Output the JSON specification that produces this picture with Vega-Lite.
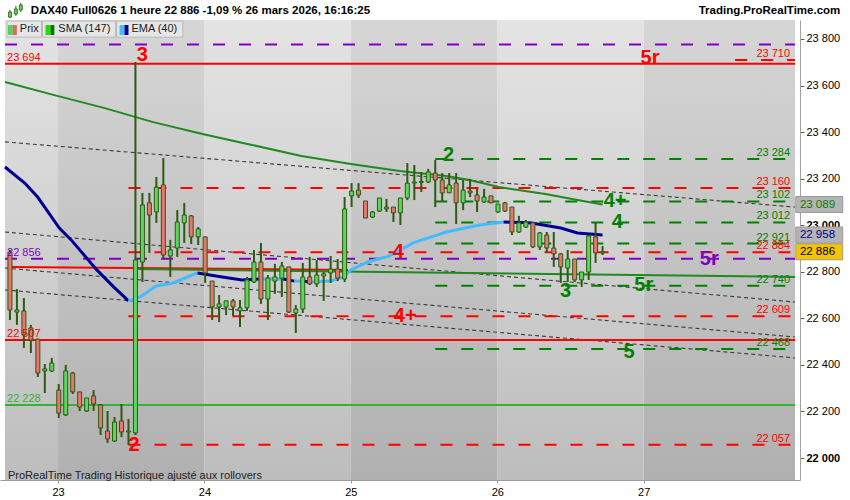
{
  "$schema": "https://vega.github.io/schema/vega-lite/v6.json",
  "width": 800,
  "height": 460,
  "autosize": {"type": "none"},
  "padding": {"left": 0, "top": 20, "right": 50, "bottom": 20},
  "background": "#ffffff",
  "config": {"view": {"stroke": null}, "font": "Liberation Sans"},
  "datasets": {
    "jours": [
      {"a": -0.71, "b": 6.9, "s": "clair"},
      {"a": 6.9, "b": 27.9, "s": "fonce"},
      {"a": 27.9, "b": 48.9, "s": "clair"},
      {"a": 48.9, "b": 69.9, "s": "fonce"},
      {"a": 69.9, "b": 90.9, "s": "clair"},
      {"a": 90.9, "b": 112.6, "s": "fonce"}
    ],
    "lignes": [
      {"id": "r1", "grp": "res", "trait": "tirets", "k": 17, "v": 23160}, {"id": "r1", "grp": "res", "trait": "tirets", "k": 112.6, "v": 23160},
      {"id": "r2", "grp": "res", "trait": "tirets", "k": 17, "v": 22884}, {"id": "r2", "grp": "res", "trait": "tirets", "k": 112.6, "v": 22884},
      {"id": "r3", "grp": "res", "trait": "tirets", "k": 17, "v": 22609}, {"id": "r3", "grp": "res", "trait": "tirets", "k": 112.6, "v": 22609},
      {"id": "r4", "grp": "res", "trait": "tirets", "k": 17, "v": 22057}, {"id": "r4", "grp": "res", "trait": "tirets", "k": 112.6, "v": 22057},
      {"id": "r5", "grp": "res", "trait": "tirets", "k": 104, "v": 23710}, {"id": "r5", "grp": "res", "trait": "tirets", "k": 112.6, "v": 23710},
      {"id": "s1", "grp": "sup", "trait": "tirets", "k": 61, "v": 23284}, {"id": "s1", "grp": "sup", "trait": "tirets", "k": 112.6, "v": 23284},
      {"id": "s2", "grp": "sup", "trait": "tirets", "k": 61, "v": 23102}, {"id": "s2", "grp": "sup", "trait": "tirets", "k": 112.6, "v": 23102},
      {"id": "s3", "grp": "sup", "trait": "tirets", "k": 61, "v": 23012}, {"id": "s3", "grp": "sup", "trait": "tirets", "k": 112.6, "v": 23012},
      {"id": "s4", "grp": "sup", "trait": "tirets", "k": 61, "v": 22921}, {"id": "s4", "grp": "sup", "trait": "tirets", "k": 112.6, "v": 22921},
      {"id": "s5", "grp": "sup", "trait": "tirets", "k": 61, "v": 22740}, {"id": "s5", "grp": "sup", "trait": "tirets", "k": 112.6, "v": 22740},
      {"id": "s6", "grp": "sup", "trait": "tirets", "k": 61, "v": 22468}, {"id": "s6", "grp": "sup", "trait": "tirets", "k": 112.6, "v": 22468},
      {"id": "p1", "grp": "piv", "trait": "tirets", "k": -0.71, "v": 23776}, {"id": "p1", "grp": "piv", "trait": "tirets", "k": 112.6, "v": 23776},
      {"id": "p2", "grp": "piv", "trait": "tirets", "k": -0.71, "v": 22856}, {"id": "p2", "grp": "piv", "trait": "tirets", "k": 112.6, "v": 22856},
      {"id": "f1", "grp": "res", "trait": "plein", "k": -0.71, "v": 23694}, {"id": "f1", "grp": "res", "trait": "plein", "k": 112.6, "v": 23694},
      {"id": "f2", "grp": "res", "trait": "plein", "k": -0.71, "v": 22507}, {"id": "f2", "grp": "res", "trait": "plein", "k": 112.6, "v": 22507},
      {"id": "f3", "grp": "supFixe", "trait": "plein", "k": -0.71, "v": 22228}, {"id": "f3", "grp": "supFixe", "trait": "plein", "k": 112.6, "v": 22228},
      {"id": "t1", "grp": "res", "trait": "plein", "k": 0, "v": 22821}, {"id": "t1", "grp": "res", "trait": "plein", "k": 48.5, "v": 22808},
      {"id": "t2", "grp": "sma", "trait": "plein", "k": 18, "v": 22812}, {"id": "t2", "grp": "sma", "trait": "plein", "k": 112.6, "v": 22778},
      {"id": "c1", "grp": "canal", "trait": "pointille", "k": -0.71, "v": 23358}, {"id": "c1", "grp": "canal", "trait": "pointille", "k": 112.6, "v": 23078},
      {"id": "c2", "grp": "canal", "trait": "pointille", "k": -0.71, "v": 22971}, {"id": "c2", "grp": "canal", "trait": "pointille", "k": 112.6, "v": 22670},
      {"id": "c3", "grp": "canal", "trait": "pointille", "k": -0.71, "v": 22816}, {"id": "c3", "grp": "canal", "trait": "pointille", "k": 112.6, "v": 22520},
      {"id": "c4", "grp": "canal", "trait": "pointille", "k": -0.71, "v": 22722}, {"id": "c4", "grp": "canal", "trait": "pointille", "k": 112.6, "v": 22430}
    ],
    "sma": [
      {"k": -0.71, "v": 23615}, {"k": 6.37, "v": 23559}, {"k": 13.46, "v": 23504}, {"k": 20.54, "v": 23443},
      {"k": 27.62, "v": 23392}, {"k": 34.7, "v": 23345}, {"k": 41.8, "v": 23297}, {"k": 48.9, "v": 23263},
      {"k": 55.9, "v": 23233}, {"k": 62.6, "v": 23211}, {"k": 65.9, "v": 23194}, {"k": 70.1, "v": 23164},
      {"k": 76.8, "v": 23134}, {"k": 81.4, "v": 23108}, {"k": 85, "v": 23089}
    ],
    "ema": [
      {"seg": 1, "grp": "emaB", "k": -0.71, "v": 23250}, {"seg": 1, "grp": "emaB", "k": 2.12, "v": 23181}, {"seg": 1, "grp": "emaB", "k": 3.97, "v": 23121},
      {"seg": 1, "grp": "emaB", "k": 7.08, "v": 22988}, {"seg": 1, "grp": "emaB", "k": 8.78, "v": 22937}, {"seg": 1, "grp": "emaB", "k": 12.46, "v": 22808},
      {"seg": 1, "grp": "emaB", "k": 14.87, "v": 22735}, {"seg": 1, "grp": "emaB", "k": 17, "v": 22675},
      {"seg": 2, "grp": "emaH", "k": 17, "v": 22675}, {"seg": 2, "grp": "emaH", "k": 18.7, "v": 22692}, {"seg": 2, "grp": "emaH", "k": 20.96, "v": 22739},
      {"seg": 2, "grp": "emaH", "k": 23.4, "v": 22752}, {"seg": 2, "grp": "emaH", "k": 26.9, "v": 22795},
      {"seg": 3, "grp": "emaB", "k": 26.9, "v": 22795}, {"seg": 3, "grp": "emaB", "k": 30.45, "v": 22778}, {"seg": 3, "grp": "emaB", "k": 33.3, "v": 22765}, {"seg": 3, "grp": "emaB", "k": 36.1, "v": 22769},
      {"seg": 4, "grp": "emaH", "k": 36.1, "v": 22769}, {"seg": 4, "grp": "emaH", "k": 39.2, "v": 22769},
      {"seg": 5, "grp": "emaB", "k": 39.2, "v": 22769}, {"seg": 5, "grp": "emaB", "k": 40.8, "v": 22760},
      {"seg": 6, "grp": "emaH", "k": 40.8, "v": 22760}, {"seg": 6, "grp": "emaH", "k": 42.07, "v": 22760},
      {"seg": 7, "grp": "emaB", "k": 42.07, "v": 22760}, {"seg": 7, "grp": "emaB", "k": 42.9, "v": 22756},
      {"seg": 8, "grp": "emaH", "k": 42.9, "v": 22756}, {"seg": 8, "grp": "emaH", "k": 46.0, "v": 22760}, {"seg": 8, "grp": "emaH", "k": 47.9, "v": 22778},
      {"seg": 8, "grp": "emaH", "k": 48.9, "v": 22808}, {"seg": 8, "grp": "emaH", "k": 51.3, "v": 22842}, {"seg": 8, "grp": "emaH", "k": 54.5, "v": 22868},
      {"seg": 8, "grp": "emaH", "k": 57.8, "v": 22924}, {"seg": 8, "grp": "emaH", "k": 62.6, "v": 22971}, {"seg": 8, "grp": "emaH", "k": 67.3, "v": 23001},
      {"seg": 8, "grp": "emaH", "k": 70.8, "v": 23014},
      {"seg": 9, "grp": "emaB", "k": 70.8, "v": 23014}, {"seg": 9, "grp": "emaB", "k": 74.8, "v": 23010}, {"seg": 9, "grp": "emaB", "k": 79.0, "v": 22988},
      {"seg": 9, "grp": "emaB", "k": 81.4, "v": 22967}, {"seg": 9, "grp": "emaB", "k": 85, "v": 22958}
    ],
    "bougies": [
      {"k":0,"o":22885,"h":22894,"l":22593,"c":22636},
      {"k":1,"o":22627,"h":22726,"l":22572,"c":22636},
      {"k":2,"o":22632,"h":22687,"l":22473,"c":22529},
      {"k":3,"o":22559,"h":22572,"l":22451,"c":22507},
      {"k":4,"o":22511,"h":22511,"l":22348,"c":22365},
      {"k":5,"o":22374,"h":22404,"l":22279,"c":22383},
      {"k":6,"o":22374,"h":22430,"l":22370,"c":22408},
      {"k":7,"o":22292,"h":22318,"l":22172,"c":22193},
      {"k":8,"o":22185,"h":22400,"l":22181,"c":22374},
      {"k":9,"o":22365,"h":22370,"l":22275,"c":22284},
      {"k":10,"o":22284,"h":22284,"l":22202,"c":22219},
      {"k":11,"o":22202,"h":22258,"l":22198,"c":22258},
      {"k":12,"o":22267,"h":22292,"l":22202,"c":22232},
      {"k":13,"o":22228,"h":22232,"l":22099,"c":22129},
      {"k":14,"o":22116,"h":22202,"l":22065,"c":22082},
      {"k":15,"o":22073,"h":22176,"l":22069,"c":22155},
      {"k":16,"o":22159,"h":22232,"l":22090,"c":22112},
      {"k":17,"o":22112,"h":22168,"l":22056,"c":22116},
      {"k":18,"o":22108,"h":23701,"l":22099,"c":22851},
      {"k":19,"o":22842,"h":23139,"l":22756,"c":23087},
      {"k":20,"o":23096,"h":23139,"l":22881,"c":23044},
      {"k":21,"o":23057,"h":23207,"l":23010,"c":23164},
      {"k":22,"o":23173,"h":23289,"l":22859,"c":22872},
      {"k":23,"o":22868,"h":22937,"l":22778,"c":22894},
      {"k":24,"o":22902,"h":23065,"l":22864,"c":23014},
      {"k":25,"o":23010,"h":23096,"l":22924,"c":23044},
      {"k":26,"o":23040,"h":23044,"l":22919,"c":22950},
      {"k":27,"o":22950,"h":22992,"l":22915,"c":22984},
      {"k":28,"o":22950,"h":22950,"l":22752,"c":22795},
      {"k":29,"o":22760,"h":22760,"l":22593,"c":22649},
      {"k":30,"o":22649,"h":22700,"l":22584,"c":22662},
      {"k":31,"o":22649,"h":22675,"l":22614,"c":22675},
      {"k":32,"o":22675,"h":22683,"l":22610,"c":22649},
      {"k":33,"o":22632,"h":22679,"l":22563,"c":22645},
      {"k":34,"o":22645,"h":22778,"l":22632,"c":22765},
      {"k":35,"o":22756,"h":22894,"l":22752,"c":22842},
      {"k":36,"o":22842,"h":22924,"l":22662,"c":22683},
      {"k":37,"o":22683,"h":22786,"l":22593,"c":22773},
      {"k":38,"o":22760,"h":22834,"l":22705,"c":22778},
      {"k":39,"o":22773,"h":22842,"l":22692,"c":22825},
      {"k":40,"o":22821,"h":22821,"l":22623,"c":22627},
      {"k":41,"o":22623,"h":22657,"l":22537,"c":22640},
      {"k":42,"o":22640,"h":22838,"l":22623,"c":22778},
      {"k":43,"o":22778,"h":22864,"l":22743,"c":22748},
      {"k":44,"o":22748,"h":22851,"l":22735,"c":22786},
      {"k":45,"o":22782,"h":22799,"l":22675,"c":22791},
      {"k":46,"o":22795,"h":22868,"l":22752,"c":22812},
      {"k":47,"o":22812,"h":22855,"l":22760,"c":22773},
      {"k":48,"o":22769,"h":23121,"l":22756,"c":23070},
      {"k":49,"o":23126,"h":23181,"l":23078,"c":23147},
      {"k":50,"o":23151,"h":23181,"l":23117,"c":23130},
      {"k":51,"o":23104,"h":23104,"l":23031,"c":23031},
      {"k":52,"o":23035,"h":23061,"l":23031,"c":23057},
      {"k":53,"o":23061,"h":23117,"l":23057,"c":23117},
      {"k":54,"o":23078,"h":23113,"l":23057,"c":23070},
      {"k":55,"o":23078,"h":23078,"l":23014,"c":23053},
      {"k":56,"o":23053,"h":23117,"l":23001,"c":23117},
      {"k":57,"o":23117,"h":23267,"l":23108,"c":23181},
      {"k":58,"o":23181,"h":23259,"l":23108,"c":23186},
      {"k":59,"o":23184,"h":23229,"l":23143,"c":23188},
      {"k":60,"o":23186,"h":23242,"l":23181,"c":23229},
      {"k":61,"o":23224,"h":23280,"l":23078,"c":23194},
      {"k":62,"o":23194,"h":23224,"l":23100,"c":23139},
      {"k":63,"o":23139,"h":23224,"l":23139,"c":23173},
      {"k":64,"o":23181,"h":23224,"l":23005,"c":23096},
      {"k":65,"o":23096,"h":23194,"l":23065,"c":23151},
      {"k":66,"o":23147,"h":23199,"l":23121,"c":23139},
      {"k":67,"o":23130,"h":23156,"l":23057,"c":23104},
      {"k":68,"o":23100,"h":23156,"l":23096,"c":23121},
      {"k":69,"o":23126,"h":23126,"l":23096,"c":23096},
      {"k":70,"o":23057,"h":23091,"l":23053,"c":23091},
      {"k":71,"o":23096,"h":23100,"l":23057,"c":23061},
      {"k":72,"o":23078,"h":23078,"l":22958,"c":22971},
      {"k":73,"o":22971,"h":23040,"l":22967,"c":23010},
      {"k":74,"o":22992,"h":23023,"l":22988,"c":23014},
      {"k":75,"o":23010,"h":23014,"l":22902,"c":22907},
      {"k":76,"o":22907,"h":22971,"l":22894,"c":22967},
      {"k":77,"o":22958,"h":22971,"l":22881,"c":22902},
      {"k":78,"o":22902,"h":22971,"l":22821,"c":22877},
      {"k":79,"o":22877,"h":22881,"l":22752,"c":22821},
      {"k":80,"o":22816,"h":22894,"l":22756,"c":22855},
      {"k":81,"o":22855,"h":22855,"l":22756,"c":22765},
      {"k":82,"o":22765,"h":22799,"l":22735,"c":22799},
      {"k":83,"o":22799,"h":22958,"l":22765,"c":22954},
      {"k":84,"o":22950,"h":23010,"l":22838,"c":22881},
      {"k":85,"o":22881,"h":22911,"l":22872,"c":22886}
    ],
    "icone": [
      {"k": 0, "o": 23894, "h": 23925, "l": 23890, "c": 23916},
      {"k": 0.85, "o": 23907, "h": 23942, "l": 23899, "c": 23929},
      {"k": 1.56, "o": 23925, "h": 23955, "l": 23916, "c": 23946}
    ],
    "etiquettes": [
      {"t": "23 694", "v": 23694, "grp": "res", "cote": "g"},
      {"t": "22 856", "v": 22856, "grp": "piv", "cote": "g"},
      {"t": "22 507", "v": 22507, "grp": "res", "cote": "g"},
      {"t": "22 228", "v": 22228, "grp": "supFixe", "cote": "g"},
      {"t": "23 710", "v": 23710, "grp": "res", "cote": "d"},
      {"t": "23 284", "v": 23284, "grp": "sup", "cote": "d"},
      {"t": "23 160", "v": 23160, "grp": "res", "cote": "d"},
      {"t": "23 102", "v": 23102, "grp": "sup", "cote": "d"},
      {"t": "23 012", "v": 23012, "grp": "sup", "cote": "d"},
      {"t": "22 921", "v": 22921, "grp": "sup", "cote": "d"},
      {"t": "22 884", "v": 22884, "grp": "res", "cote": "d"},
      {"t": "22 740", "v": 22740, "grp": "sup", "cote": "d"},
      {"t": "22 609", "v": 22609, "grp": "res", "cote": "d"},
      {"t": "22 468", "v": 22468, "grp": "sup", "cote": "d"},
      {"t": "22 057", "v": 22057, "grp": "res", "cote": "d"}
    ],
    "vagues": [
      {"t": "3", "k": 19.0, "v": 23731, "grp": "res"},
      {"t": "2", "k": 17.8, "v": 22056, "grp": "res"},
      {"t": "4", "k": 55.7, "v": 22885, "grp": "res"},
      {"t": "4+", "k": 56.7, "v": 22610, "grp": "res"},
      {"t": "5r", "k": 91.8, "v": 23718, "grp": "res"},
      {"t": "2", "k": 62.9, "v": 23302, "grp": "sup"},
      {"t": "4+", "k": 86.8, "v": 23104, "grp": "sup"},
      {"t": "4", "k": 87.1, "v": 23014, "grp": "sup"},
      {"t": "3", "k": 79.7, "v": 22717, "grp": "sup"},
      {"t": "5r", "k": 90.9, "v": 22743, "grp": "sup"},
      {"t": "5r", "k": 100.3, "v": 22855, "grp": "piv"},
      {"t": "5", "k": 88.8, "v": 22455, "grp": "sup"}
    ],
    "boites": [
      {"t": "23 089", "v": 23089, "grp": "sup"},
      {"t": "22 958", "v": 22958, "grp": "emaB"},
      {"t": "22 886", "v": 22886, "grp": "prix"}
    ],
    "legende": [
      {"a": -0.42, "b": 4.53, "t": "Prix", "tk": 1.42},
      {"a": 4.67, "b": 15.16, "t": "SMA (147)", "tk": 6.94},
      {"a": 15.3, "b": 24.79, "t": "EMA (40)", "tk": 17.42}
    ],
    "pastilles": [
      {"a": -0.28, "b": 0.42, "grp": "swPv"}, {"a": 0.42, "b": 0.99, "grp": "swPr"},
      {"a": 5.1, "b": 5.81, "grp": "swSc"}, {"a": 5.81, "b": 6.37, "grp": "swSf"},
      {"a": 15.72, "b": 16.43, "grp": "swEc"}, {"a": 16.43, "b": 17.0, "grp": "swEf"}
    ],
    "textes": [
      {"t": "DAX40 Full0626 1 heure 22 886 -1,09 % 26 mars 2026, 16:16:25", "k": 2.97, "v": 23920, "role": "entete"},
      {"t": "Trading.ProRealTime.com", "k": 119.1, "v": 23920, "role": "site"},
      {"t": "ProRealTime Trading  Historique ajusté aux rollovers", "k": -0.28, "v": 21923, "role": "pied"}
    ]
  },
  "layer": [
    {
      "data": {"name": "jours"},
      "transform": [{"filter": "datum.s === 'clair'"}],
      "mark": {"type": "rect", "fill": {"gradient": "linear", "x1": 0, "y1": 0, "x2": 0, "y2": 1, "stops": [{"offset": 0, "color": "#e4e4e4"}, {"offset": 1, "color": "#bdbdbd"}]}},
      "encoding": {
        "x": {"field": "a", "type": "quantitative", "title": null,
          "scale": {"domain": [-0.71, 112.6], "nice": false, "zero": false},
          "axis": {"orient": "bottom", "title": null, "grid": false, "values": [6.9, 27.9, 48.9, 69.9, 90.9],
            "labelExpr": "['23','24','25','26','27'][round((datum.value - 6.9) / 21)]",
            "tickSize": 3, "labelPadding": 3, "domainColor": "#9a9a9a", "tickColor": "#9a9a9a",
            "labelFontSize": 11, "labelColor": "#000000", "labelFont": "Liberation Sans", "labelFlush": false}},
        "x2": {"field": "b"},
        "y": {"datum": 21905.6, "type": "quantitative", "title": null,
          "scale": {"domain": [21905.6, 23881.6], "nice": false, "zero": false},
          "axis": {"orient": "right", "title": null, "grid": false,
            "values": [22000, 22100, 22200, 22300, 22400, 22500, 22600, 22700, 22800, 22900, 23000, 23100, 23200, 23300, 23400, 23500, 23600, 23700, 23800],
            "labelExpr": "datum.value % 200 === 0 ? replace(format(datum.value, ','), ',', ' ') : ''",
            "labelFontWeight": {"expr": "datum.value % 1000 === 0 ? 'bold' : 'normal'"},
            "tickSize": 4, "labelPadding": 2, "domainColor": "#a0a0a0", "tickColor": "#606060",
            "labelFontSize": 11, "labelColor": "#000000", "labelFont": "Liberation Sans"}},
        "y2": {"datum": 23881.6}
      }
    },
    {
      "data": {"name": "jours"},
      "transform": [{"filter": "datum.s === 'fonce'"}],
      "mark": {"type": "rect", "fill": {"gradient": "linear", "x1": 0, "y1": 0, "x2": 0, "y2": 1, "stops": [{"offset": 0, "color": "#d6d6d6"}, {"offset": 1, "color": "#b0b0b0"}]}},
      "encoding": {
        "x": {"field": "a", "type": "quantitative", "title": null},
        "x2": {"field": "b"},
        "y": {"datum": 21905.6, "type": "quantitative", "title": null},
        "y2": {"datum": 23881.6}
      }
    },
    {
      "data": {"name": "lignes"},
      "transform": [{"filter": "datum.trait === 'pointille'"}],
      "mark": {"type": "line", "color": "#3a3a3a", "strokeWidth": 1.1, "strokeDash": [4, 3]},
      "encoding": {
        "x": {"field": "k", "type": "quantitative", "title": null},
        "y": {"field": "v", "type": "quantitative", "title": null},
        "detail": {"field": "id"}
      }
    },
    {
      "data": {"name": "lignes"},
      "transform": [{"filter": "datum.trait === 'plein'"}],
      "mark": {"type": "line", "strokeWidth": 2},
      "encoding": {
        "x": {"field": "k", "type": "quantitative", "title": null},
        "y": {"field": "v", "type": "quantitative", "title": null},
        "detail": {"field": "id"},
        "color": {"field": "grp", "type": "nominal", "legend": null,
          "scale": {"domain": ["res", "sup", "piv", "supFixe", "sma", "emaB", "emaH", "prix", "swPv", "swPr", "swSc", "swSf", "swEc", "swEf"],
                    "range": ["#ff0000", "#008000", "#8000c0", "#33b233", "#1f8a1f", "#000090", "#44bbff", "#000000", "#5ccf5c", "#e06a60", "#22dd00", "#007700", "#44bbff", "#000099"]}}
      }
    },
    {
      "data": {"name": "lignes"},
      "transform": [{"filter": "datum.trait === 'tirets'"}],
      "mark": {"type": "line", "strokeWidth": 2, "strokeDash": [12, 14]},
      "encoding": {
        "x": {"field": "k", "type": "quantitative", "title": null},
        "y": {"field": "v", "type": "quantitative", "title": null},
        "detail": {"field": "id"},
        "color": {"field": "grp", "type": "nominal", "legend": null,
          "scale": {"domain": ["res", "sup", "piv", "supFixe", "sma", "emaB", "emaH", "prix", "swPv", "swPr", "swSc", "swSf", "swEc", "swEf"],
                    "range": ["#ff0000", "#008000", "#8000c0", "#33b233", "#1f8a1f", "#000090", "#44bbff", "#000000", "#5ccf5c", "#e06a60", "#22dd00", "#007700", "#44bbff", "#000099"]}}
      }
    },
    {
      "data": {"name": "sma"},
      "mark": {"type": "line", "color": "#1f8a1f", "strokeWidth": 2},
      "encoding": {
        "x": {"field": "k", "type": "quantitative", "title": null},
        "y": {"field": "v", "type": "quantitative", "title": null}
      }
    },
    {
      "data": {"name": "ema"},
      "mark": {"type": "line", "strokeWidth": 3},
      "encoding": {
        "x": {"field": "k", "type": "quantitative", "title": null},
        "y": {"field": "v", "type": "quantitative", "title": null},
        "detail": {"field": "seg"},
        "color": {"field": "grp", "type": "nominal", "legend": null,
          "scale": {"domain": ["res", "sup", "piv", "supFixe", "sma", "emaB", "emaH", "prix", "swPv", "swPr", "swSc", "swSf", "swEc", "swEf"],
                    "range": ["#ff0000", "#008000", "#8000c0", "#33b233", "#1f8a1f", "#000090", "#44bbff", "#000000", "#5ccf5c", "#e06a60", "#22dd00", "#007700", "#44bbff", "#000099"]}}
      }
    },
    {
      "data": {"name": "bougies"},
      "mark": {"type": "rule", "color": "#2d5a12", "strokeWidth": 2},
      "encoding": {
        "x": {"field": "k", "type": "quantitative", "title": null},
        "y": {"field": "l", "type": "quantitative", "title": null},
        "y2": {"field": "h"}
      }
    },
    {
      "data": {"name": "bougies"},
      "mark": {"type": "bar", "orient": "vertical", "size": 4, "stroke": "#2d5a12", "strokeWidth": 1},
      "encoding": {
        "x": {"field": "k", "type": "quantitative", "title": null},
        "y": {"field": "o", "type": "quantitative", "title": null},
        "y2": {"field": "c"},
        "fill": {"condition": {"test": "datum.c >= datum.o", "value": "#5cd65c"}, "value": "#e8766c"}
      }
    },
    {
      "data": {"name": "icone"},
      "mark": {"type": "rule", "color": "#2d5a12", "strokeWidth": 1},
      "encoding": {
        "x": {"field": "k", "type": "quantitative", "title": null},
        "y": {"field": "l", "type": "quantitative", "title": null},
        "y2": {"field": "h"}
      }
    },
    {
      "data": {"name": "icone"},
      "mark": {"type": "bar", "orient": "vertical", "size": 3, "fill": "#5cd65c", "stroke": "#2d5a12", "strokeWidth": 0.8},
      "encoding": {
        "x": {"field": "k", "type": "quantitative", "title": null},
        "y": {"field": "o", "type": "quantitative", "title": null},
        "y2": {"field": "c"}
      }
    },
    {
      "data": {"name": "etiquettes"},
      "transform": [{"filter": "datum.cote === 'g'"}],
      "mark": {"type": "text", "align": "left", "baseline": "bottom", "dy": -1, "fontSize": 11, "font": "Liberation Sans"},
      "encoding": {
        "x": {"datum": -0.42, "type": "quantitative", "title": null},
        "y": {"field": "v", "type": "quantitative", "title": null},
        "text": {"field": "t"},
        "color": {"field": "grp", "type": "nominal", "legend": null,
          "scale": {"domain": ["res", "sup", "piv", "supFixe", "sma", "emaB", "emaH", "prix", "swPv", "swPr", "swSc", "swSf", "swEc", "swEf"],
                    "range": ["#ff0000", "#008000", "#8000c0", "#33b233", "#1f8a1f", "#000090", "#44bbff", "#000000", "#5ccf5c", "#e06a60", "#22dd00", "#007700", "#44bbff", "#000099"]}}
      }
    },
    {
      "data": {"name": "etiquettes"},
      "transform": [{"filter": "datum.cote === 'd'"}],
      "mark": {"type": "text", "align": "right", "baseline": "bottom", "dy": -1, "fontSize": 11, "font": "Liberation Sans"},
      "encoding": {
        "x": {"datum": 111.9, "type": "quantitative", "title": null},
        "y": {"field": "v", "type": "quantitative", "title": null},
        "text": {"field": "t"},
        "color": {"field": "grp", "type": "nominal", "legend": null,
          "scale": {"domain": ["res", "sup", "piv", "supFixe", "sma", "emaB", "emaH", "prix", "swPv", "swPr", "swSc", "swSf", "swEc", "swEf"],
                    "range": ["#ff0000", "#008000", "#8000c0", "#33b233", "#1f8a1f", "#000090", "#44bbff", "#000000", "#5ccf5c", "#e06a60", "#22dd00", "#007700", "#44bbff", "#000099"]}}
      }
    },
    {
      "data": {"name": "vagues"},
      "mark": {"type": "text", "align": "center", "baseline": "middle", "fontSize": 20, "fontWeight": "bold", "font": "Liberation Sans"},
      "encoding": {
        "x": {"field": "k", "type": "quantitative", "title": null},
        "y": {"field": "v", "type": "quantitative", "title": null},
        "text": {"field": "t"},
        "color": {"field": "grp", "type": "nominal", "legend": null,
          "scale": {"domain": ["res", "sup", "piv", "supFixe", "sma", "emaB", "emaH", "prix", "swPv", "swPr", "swSc", "swSf", "swEc", "swEf"],
                    "range": ["#ff0000", "#008000", "#8000c0", "#33b233", "#1f8a1f", "#000090", "#44bbff", "#000000", "#5ccf5c", "#e06a60", "#22dd00", "#007700", "#44bbff", "#000099"]}}
      }
    },
    {
      "data": {"name": "boites"},
      "mark": {"type": "tick", "orient": "horizontal", "size": 47, "thickness": 16, "opacity": 1, "stroke": "#9a9a9a", "strokeWidth": 1},
      "encoding": {
        "x": {"datum": 116.08, "type": "quantitative", "title": null},
        "y": {"field": "v", "type": "quantitative", "title": null},
        "fill": {"condition": {"test": "datum.grp === 'prix'", "value": "#f5c400"}, "value": "#b4b4b4"}
      }
    },
    {
      "data": {"name": "boites"},
      "mark": {"type": "text", "align": "left", "baseline": "middle", "fontSize": 11.5, "font": "Liberation Sans"},
      "encoding": {
        "x": {"datum": 113.3, "type": "quantitative", "title": null},
        "y": {"field": "v", "type": "quantitative", "title": null},
        "text": {"field": "t"},
        "color": {"field": "grp", "type": "nominal", "legend": null,
          "scale": {"domain": ["res", "sup", "piv", "supFixe", "sma", "emaB", "emaH", "prix", "swPv", "swPr", "swSc", "swSf", "swEc", "swEf"],
                    "range": ["#ff0000", "#008000", "#8000c0", "#33b233", "#1f8a1f", "#000090", "#44bbff", "#000000", "#5ccf5c", "#e06a60", "#22dd00", "#007700", "#44bbff", "#000099"]}}
      }
    },
    {
      "data": {"name": "legende"},
      "mark": {"type": "rect", "fill": "#e6e6e6", "stroke": "#b8b8b8", "strokeWidth": 1},
      "encoding": {
        "x": {"field": "a", "type": "quantitative", "title": null},
        "x2": {"field": "b"},
        "y": {"datum": 23808, "type": "quantitative", "title": null},
        "y2": {"datum": 23877}
      }
    },
    {
      "data": {"name": "pastilles"},
      "mark": {"type": "rect"},
      "encoding": {
        "x": {"field": "a", "type": "quantitative", "title": null},
        "x2": {"field": "b"},
        "y": {"datum": 23817, "type": "quantitative", "title": null},
        "y2": {"datum": 23860},
        "color": {"field": "grp", "type": "nominal", "legend": null,
          "scale": {"domain": ["res", "sup", "piv", "supFixe", "sma", "emaB", "emaH", "prix", "swPv", "swPr", "swSc", "swSf", "swEc", "swEf"],
                    "range": ["#ff0000", "#008000", "#8000c0", "#33b233", "#1f8a1f", "#000090", "#44bbff", "#000000", "#5ccf5c", "#e06a60", "#22dd00", "#007700", "#44bbff", "#000099"]}}
      }
    },
    {
      "data": {"name": "legende"},
      "mark": {"type": "text", "align": "left", "baseline": "middle", "fontSize": 11, "color": "#222222", "font": "Liberation Sans"},
      "encoding": {
        "x": {"field": "tk", "type": "quantitative", "title": null},
        "y": {"datum": 23843, "type": "quantitative", "title": null},
        "text": {"field": "t"}
      }
    },
    {
      "data": {"name": "textes"},
      "transform": [{"filter": "datum.role === 'entete'"}],
      "mark": {"type": "text", "align": "left", "baseline": "middle", "fontSize": 11.5, "fontWeight": "bold", "color": "#000000", "font": "Liberation Sans"},
      "encoding": {
        "x": {"field": "k", "type": "quantitative", "title": null},
        "y": {"field": "v", "type": "quantitative", "title": null},
        "text": {"field": "t"}
      }
    },
    {
      "data": {"name": "textes"},
      "transform": [{"filter": "datum.role === 'site'"}],
      "mark": {"type": "text", "align": "right", "baseline": "middle", "fontSize": 11.5, "fontWeight": "bold", "color": "#000000", "font": "Liberation Sans"},
      "encoding": {
        "x": {"field": "k", "type": "quantitative", "title": null},
        "y": {"field": "v", "type": "quantitative", "title": null},
        "text": {"field": "t"}
      }
    },
    {
      "data": {"name": "textes"},
      "transform": [{"filter": "datum.role === 'pied'"}],
      "mark": {"type": "text", "align": "left", "baseline": "middle", "fontSize": 11, "color": "#222222", "font": "Liberation Sans"},
      "encoding": {
        "x": {"field": "k", "type": "quantitative", "title": null},
        "y": {"field": "v", "type": "quantitative", "title": null},
        "text": {"field": "t"}
      }
    }
  ]
}
